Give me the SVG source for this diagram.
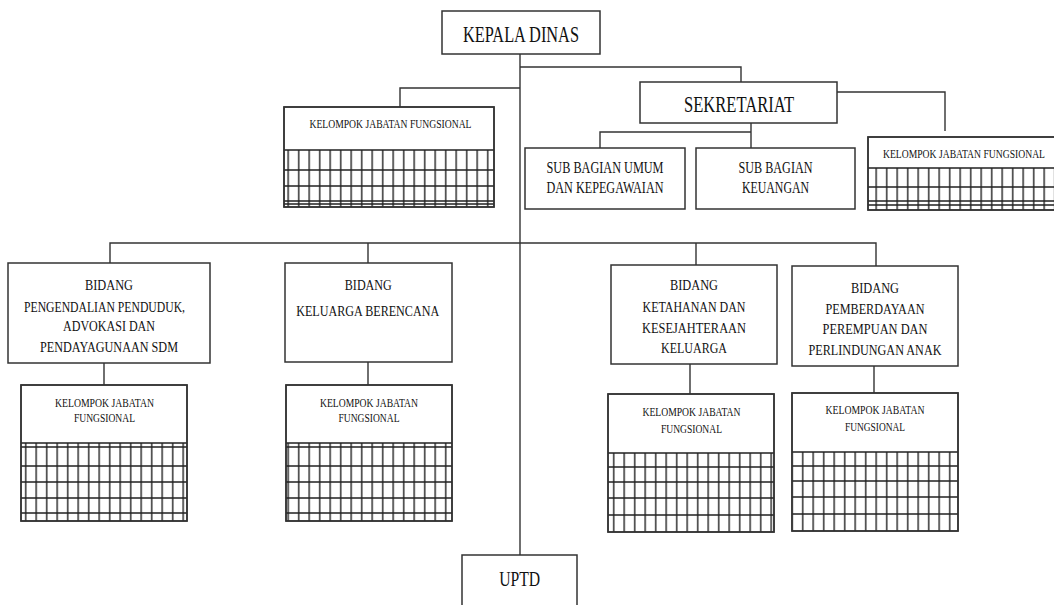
<svg xmlns="http://www.w3.org/2000/svg" width="1054" height="605" viewBox="0 0 1054 605">
<style>
.box{fill:#fff;stroke:#333;stroke-width:1.5}
.ln{fill:none;stroke:#333;stroke-width:1.4}
.hg{fill:none;stroke:#222;stroke-width:1.5}
.t{font-family:"Liberation Serif","Times New Roman",serif;fill:#111;text-anchor:middle}
.s{font-size:11.5px}
.m{font-size:15px}
.l{font-size:24px}
</style>
<defs>
<pattern id="vg" patternUnits="userSpaceOnUse" width="10.5" height="20">
<rect x="4" y="0" width="1.4" height="20" fill="#222"/>
</pattern>
</defs>
<rect width="1054" height="605" fill="#fff"/>
<g id="connectors">
<path class="ln" d="M520 54 V555"/>
<path class="ln" d="M520 67 H741 V82"/>
<path class="ln" d="M520 88 H400 V107"/>
<path class="ln" d="M837 92 H945 V131"/>
<path class="ln" d="M751 123 V148 M600 148 V132 H751"/>
<path class="ln" d="M110 263 V243 H876 V266"/>
<path class="ln" d="M368 243 V263"/>
<path class="ln" d="M696 243 V265"/>
<path class="ln" d="M104 363 V385"/>
<path class="ln" d="M368 362 V385"/>
<path class="ln" d="M690 364 V394"/>
<path class="ln" d="M874 366 V393"/>
</g>
<g id="kepala-dinas">
<rect class="box" x="442" y="11" width="158" height="43"/>
<text class="t l" x="521" y="42" textLength="116" lengthAdjust="spacingAndGlyphs">KEPALA DINAS</text>
</g>
<g id="sekretariat">
<rect class="box" x="640" y="82" width="197" height="41"/>
<text class="t l" x="739" y="112" textLength="110" lengthAdjust="spacingAndGlyphs" style="font-size:23px">SEKRETARIAT</text>
</g>
<g id="kjf-kepala">
<rect class="box" x="284" y="107" width="210" height="100"/>
<rect x="285" y="150" width="209" height="57" fill="url(#vg)"/>
<path class="hg" d="M284 150 H494 M284 170 H494 M284 186 H494 M284 201 H494 M284 204 H494"/>
<rect class="box" x="284" y="107" width="210" height="100" fill="none" style="fill:none"/>
<text class="t s" x="390.5" y="128" textLength="162" lengthAdjust="spacingAndGlyphs">KELOMPOK JABATAN FUNGSIONAL</text>
</g>
<g id="sub-umum">
<rect class="box" x="525" y="148" width="160" height="61"/>
<text class="t m" x="605" y="173" textLength="117" lengthAdjust="spacingAndGlyphs" style="font-size:16px">SUB BAGIAN UMUM</text>
<text class="t m" x="605" y="193" textLength="117" lengthAdjust="spacingAndGlyphs" style="font-size:16px">DAN KEPEGAWAIAN</text>
</g>
<g id="sub-keuangan">
<rect class="box" x="696" y="148" width="159" height="61"/>
<text class="t m" x="775.5" y="173" textLength="74" lengthAdjust="spacingAndGlyphs" style="font-size:16px">SUB BAGIAN</text>
<text class="t m" x="775.5" y="193" textLength="67" lengthAdjust="spacingAndGlyphs" style="font-size:16px">KEUANGAN</text>
</g>
<g id="kjf-sekretariat">
<rect class="box" x="868" y="137" width="192" height="73"/>
<rect x="869" y="168" width="190" height="42" fill="url(#vg)"/>
<path class="hg" d="M868 168 H1060 M868 187 H1060 M868 201 H1060 M868 205 H1060"/>
<rect class="box" x="868" y="137" width="192" height="73" style="fill:none"/>
<text class="t s" x="964" y="158" textLength="162" lengthAdjust="spacingAndGlyphs">KELOMPOK JABATAN FUNGSIONAL</text>
</g>
<g id="bidang-pengendalian">
<rect class="box" x="8" y="263" width="202" height="100"/>
<text class="t m" x="109" y="289.5" textLength="48" lengthAdjust="spacingAndGlyphs">BIDANG</text>
<text class="t m" x="104.5" y="311.5" textLength="161" lengthAdjust="spacingAndGlyphs">PENGENDALIAN PENDUDUK,</text>
<text class="t m" x="109" y="330.5" textLength="92" lengthAdjust="spacingAndGlyphs">ADVOKASI DAN</text>
<text class="t m" x="109" y="352" textLength="138" lengthAdjust="spacingAndGlyphs">PENDAYAGUNAAN SDM</text>
</g>
<g id="bidang-kb">
<rect class="box" x="285" y="263" width="167" height="99"/>
<text class="t m" x="368.3" y="289.5" textLength="47" lengthAdjust="spacingAndGlyphs">BIDANG</text>
<text class="t m" x="367.7" y="316" textLength="143" lengthAdjust="spacingAndGlyphs">KELUARGA BERENCANA</text>
</g>
<g id="bidang-ketahanan">
<rect class="box" x="611" y="265" width="166" height="99"/>
<text class="t m" x="694" y="289.5" textLength="48" lengthAdjust="spacingAndGlyphs">BIDANG</text>
<text class="t m" x="694" y="311.5" textLength="103" lengthAdjust="spacingAndGlyphs">KETAHANAN DAN</text>
<text class="t m" x="694" y="332.5" textLength="104" lengthAdjust="spacingAndGlyphs">KESEJAHTERAAN</text>
<text class="t m" x="694" y="352.5" textLength="66" lengthAdjust="spacingAndGlyphs">KELUARGA</text>
</g>
<g id="bidang-pemberdayaan">
<rect class="box" x="792" y="266" width="166" height="100"/>
<text class="t m" x="875" y="292.5" textLength="48" lengthAdjust="spacingAndGlyphs">BIDANG</text>
<text class="t m" x="875" y="313.5" textLength="99" lengthAdjust="spacingAndGlyphs">PEMBERDAYAAN</text>
<text class="t m" x="875" y="333.5" textLength="105" lengthAdjust="spacingAndGlyphs">PEREMPUAN DAN</text>
<text class="t m" x="875" y="355" textLength="133" lengthAdjust="spacingAndGlyphs">PERLINDUNGAN ANAK</text>
</g>
<g id="kjf-1">
<rect class="box" x="21" y="385" width="166" height="136"/>
<rect x="22" y="443" width="164" height="78" fill="url(#vg)"/>
<path class="hg" d="M21 443 H187 M21 447 H187 M21 466 H187 M21 482 H187 M21 498 H187 M21 513 H187"/>
<rect class="box" x="21" y="385" width="166" height="136" style="fill:none"/>
<text class="t s" x="104.5" y="406.7" textLength="99" lengthAdjust="spacingAndGlyphs">KELOMPOK JABATAN</text>
<text class="t s" x="104.5" y="422.3" textLength="61" lengthAdjust="spacingAndGlyphs">FUNGSIONAL</text>
</g>
<g id="kjf-2">
<rect class="box" x="286" y="385" width="166" height="136"/>
<rect x="287" y="443" width="164" height="78" fill="url(#vg)"/>
<path class="hg" d="M286 443 H452 M286 447 H452 M286 466 H452 M286 482 H452 M286 498 H452 M286 513 H452"/>
<rect class="box" x="286" y="385" width="166" height="136" style="fill:none"/>
<text class="t s" x="369" y="406.7" textLength="98" lengthAdjust="spacingAndGlyphs">KELOMPOK JABATAN</text>
<text class="t s" x="369" y="422.3" textLength="61" lengthAdjust="spacingAndGlyphs">FUNGSIONAL</text>
</g>
<g id="kjf-3">
<rect class="box" x="608" y="394" width="166" height="138"/>
<rect x="609" y="453" width="164" height="79" fill="url(#vg)"/>
<path class="hg" d="M608 453 H774 M608 467 H774 M608 482 H774 M608 498 H774 M608 515 H774"/>
<rect class="box" x="608" y="394" width="166" height="138" style="fill:none"/>
<text class="t s" x="691.5" y="416" textLength="98" lengthAdjust="spacingAndGlyphs">KELOMPOK JABATAN</text>
<text class="t s" x="691.5" y="432.7" textLength="61" lengthAdjust="spacingAndGlyphs">FUNGSIONAL</text>
</g>
<g id="kjf-4">
<rect class="box" x="792" y="393" width="166" height="138"/>
<rect x="793" y="452" width="164" height="79" fill="url(#vg)"/>
<path class="hg" d="M792 452 H958 M792 466 H958 M792 481 H958 M792 497 H958 M792 514 H958"/>
<rect class="box" x="792" y="393" width="166" height="138" style="fill:none"/>
<text class="t s" x="875" y="414.3" textLength="99" lengthAdjust="spacingAndGlyphs">KELOMPOK JABATAN</text>
<text class="t s" x="875" y="431" textLength="60" lengthAdjust="spacingAndGlyphs">FUNGSIONAL</text>
</g>
<g id="uptd">
<rect class="box" x="462" y="555" width="115" height="60"/>
<text class="t l" x="519.7" y="585.7" textLength="41" lengthAdjust="spacingAndGlyphs" style="font-size:22px">UPTD</text>
</g>
</svg>
